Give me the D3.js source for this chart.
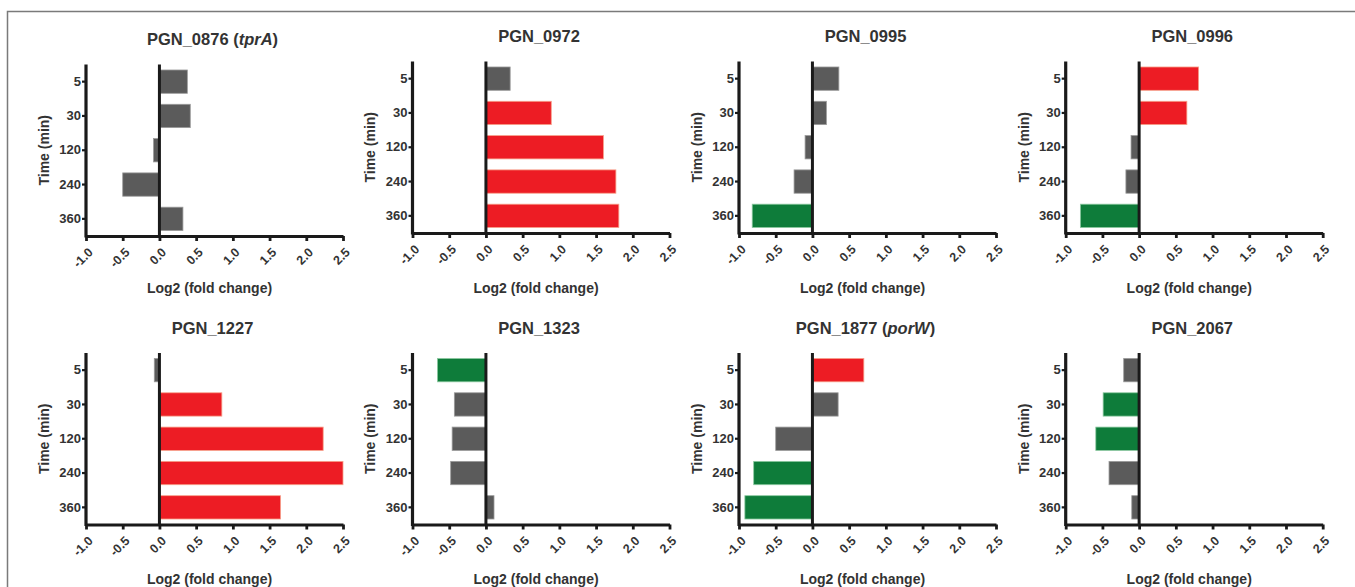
<!DOCTYPE html>
<html>
<head>
<meta charset="utf-8">
<script src="https://cdn.jsdelivr.net/npm/d3@7"></script>
<style>
  body { margin: 0; background: #fff; }
  svg { display: block; font-family: "Liberation Sans", Arial, Helvetica, sans-serif; font-weight: bold; }
</style>
</head>
<body>
<script>
// gene names (plain part, italic part)
const genes = ["PGN_0876", "PGN_0972", "PGN_0995", "PGN_0996", "PGN_1227", "PGN_1323", "PGN_1877", "PGN_2067"]
const geneAlias = ["tprA", "", "", "", "", "", "porW", ""]
const times = ["5", "30", "120", "240", "360"]
const xTicks = [-1.0, -0.5, 0.0, 0.5, 1.0, 1.5, 2.0, 2.5]

// log2 fold change per time point, one array per gene
const fc0876 = [0.38, 0.42, -0.08, -0.50, 0.32]
const fc0972 = [0.33, 0.89, 1.60, 1.77, 1.81]
const fc0995 = [0.36, 0.19, -0.10, -0.25, -0.82]
const fc0996 = [0.81, 0.65, -0.11, -0.18, -0.80]
const fc1227 = [-0.07, 0.85, 2.23, 2.50, 1.65]
const fc1323 = [-0.66, -0.43, -0.46, -0.48, 0.11]
const fc1877 = [0.70, 0.35, -0.50, -0.80, -0.92]
const fc2067 = [-0.21, -0.49, -0.59, -0.41, -0.10]

// significance: up / down / ns
const sig0876 = ["ns", "ns", "ns", "ns", "ns"]
const sig0972 = ["ns", "up", "up", "up", "up"]
const sig0995 = ["ns", "ns", "ns", "ns", "down"]
const sig0996 = ["up", "up", "ns", "ns", "down"]
const sig1227 = ["ns", "up", "up", "up", "up"]
const sig1323 = ["down", "ns", "ns", "ns", "ns"]
const sig1877 = ["up", "ns", "ns", "down", "down"]
const sig2067 = ["ns", "down", "down", "ns", "ns"]

const foldChanges = [fc0876, fc0972, fc0995, fc0996, fc1227, fc1323, fc1877, fc2067]
const significance = [sig0876, sig0972, sig0995, sig0996, sig1227, sig1323, sig1877, sig2067]

const width = 1355
const height = 587

const fillColor = { up: "#ed1c24", down: "#0e7c3a", ns: "#5b5b5b" }
const edgeColor = { up: "#f7a08a", down: "#8cc9a0", ns: "#9a9a9a" }

// panel layout: y-axis x position and axis top, per panel
const colX = [86, 412.5, 739, 1065.7]
const panelTop = [64.5, 61.5, 61.5, 61.5, 353, 353, 353, 353]
const xLabelY = [288, 579]
const plotW = 257
const plotH = 171.5

const svg = d3.select("body").append("svg")
    .attr("width", width)
    .attr("height", height)

svg.append("rect")
    .attr("x", 7.5).attr("y", 11.5)
    .attr("width", 1400).attr("height", 700)
    .attr("fill", "none")
    .attr("stroke", "#7a7a7a")
    .attr("stroke-width", 1.5)

genes.forEach((gene, i) => {
    const left = colX[i % 4]
    const top = panelTop[i]
    const row = Math.floor(i / 4)
    const bottom = top + plotH
    const values = foldChanges[i]
    const sig = significance[i]

    const x = d3.scaleLinear().domain([-1, 2.5]).range([left, left + plotW])
    const y = d3.scaleBand().domain(times).range([top, bottom])
        .paddingInner(0.32).paddingOuter(0.16)

    const g = svg.append("g")

    // title
    const title = g.append("text")
        .attr("x", left + plotW / 2 - 2)
        .attr("y", top - 25)
        .attr("dy", "0.35em")
        .attr("text-anchor", "middle")
        .attr("font-size", 16.5)
        .attr("fill", "#333")
    title.append("tspan").text(gene)
    if (geneAlias[i]) {
        title.append("tspan").text(" (")
        title.append("tspan").attr("font-style", "italic").text(geneAlias[i])
        title.append("tspan").text(")")
    }

    // bars
    g.selectAll("rect.bar")
        .data(times.map((t, j) => ({ t: t, v: values[j], s: sig[j] })))
        .join("rect")
        .attr("class", "bar")
        .attr("x", d => x(Math.min(0, d.v)))
        .attr("width", d => Math.abs(x(d.v) - x(0)))
        .attr("y", d => y(d.t))
        .attr("height", y.bandwidth())
        .attr("fill", d => fillColor[d.s])
        .attr("stroke", d => edgeColor[d.s])
        .attr("stroke-width", 0.8)

    // zero line
    g.append("line")
        .attr("x1", x(0)).attr("x2", x(0))
        .attr("y1", top).attr("y2", bottom)
        .attr("stroke", "#1a1a1a")
        .attr("stroke-width", 3)

    // x axis
    const xAxis = g.append("g")
        .attr("transform", `translate(0,${bottom})`)
        .call(d3.axisBottom(x).tickValues(xTicks).tickSize(5).tickSizeOuter(0)
            .tickFormat(d => d.toFixed(1)))
    xAxis.select(".domain").attr("stroke", "#1a1a1a").attr("stroke-width", 3.2)
    xAxis.selectAll(".tick line").attr("stroke", "#1a1a1a").attr("stroke-width", 2.8)
    xAxis.selectAll(".tick text")
        .attr("x", 0).attr("y", 0)
        .attr("dy", "0.35em")
        .attr("text-anchor", "end")
        .attr("transform", "translate(4,14) rotate(-45)")
        .attr("font-size", 12.5)
        .attr("font-family", "Liberation Sans, Arial, sans-serif")
        .attr("fill", "#333")

    // y axis
    const yAxis = g.append("g")
        .attr("transform", `translate(${left},0)`)
        .call(d3.axisLeft(y).tickSize(4).tickSizeOuter(0))
    yAxis.select(".domain").attr("stroke", "#1a1a1a").attr("stroke-width", 3.2)
        .attr("d", `M0,${top}V${bottom + 1.5}`)
    yAxis.selectAll(".tick line").attr("stroke", "#1a1a1a").attr("stroke-width", 2.2)
    yAxis.selectAll(".tick text")
        .attr("x", -5)
        .attr("font-size", 13)
        .attr("font-family", "Liberation Sans, Arial, sans-serif")
        .attr("fill", "#333")

    // axis titles
    g.append("text")
        .attr("transform", `translate(${left - 42},${(top + bottom) / 2}) rotate(-90)`)
        .attr("dy", "0.35em")
        .attr("text-anchor", "middle")
        .attr("font-size", 14)
        .attr("fill", "#333")
        .text("Time (min)")

    g.append("text")
        .attr("x", left + plotW / 2 - 5)
        .attr("y", xLabelY[row])
        .attr("dy", "0.35em")
        .attr("text-anchor", "middle")
        .attr("font-size", 14)
        .attr("fill", "#333")
        .text("Log2 (fold change)")
})
</script>
</body>
</html>
